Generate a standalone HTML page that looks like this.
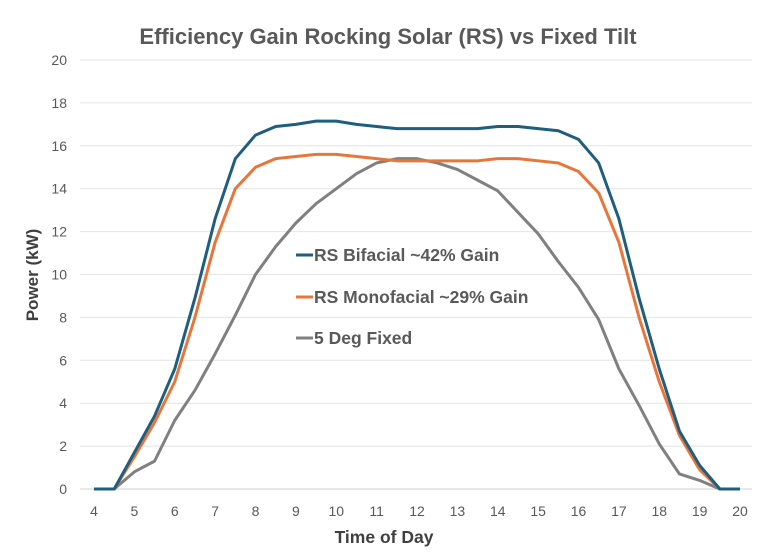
<!DOCTYPE html>
<html><head><meta charset="utf-8"><style>
body{margin:0;background:#fff;}
svg{display:block;font-family:"Liberation Sans",sans-serif;}
</style></head><body>
<svg id="chart" width="768" height="558" viewBox="0 0 768 558">
<rect x="0" y="0" width="768" height="558" fill="#fff"/>
<text x="388" y="44" text-anchor="middle" font-size="22" font-weight="bold" fill="#595959">Efficiency Gain Rocking Solar (RS) vs Fixed Tilt</text>
<g id="grid"></g><g id="yticks"></g><g id="xticks"></g><g id="series"></g>
<text x="384" y="543" text-anchor="middle" font-size="17.5" font-weight="bold" fill="#404040">Time of Day</text>
<text transform="translate(38,275) rotate(-90)" text-anchor="middle" font-size="17" font-weight="bold" fill="#404040">Power (kW)</text>
<g>
<line x1="296" y1="255" x2="313" y2="255" stroke="#1f5e7e" stroke-width="3"/>
<text x="314" y="261" font-size="17.5" font-weight="bold" fill="#595959">RS Bifacial ~42% Gain</text>
<line x1="296" y1="297" x2="313" y2="297" stroke="#e8763a" stroke-width="3"/>
<text x="314" y="303" font-size="17.5" font-weight="bold" fill="#595959">RS Monofacial ~29% Gain</text>
<line x1="296" y1="338" x2="313" y2="338" stroke="#808080" stroke-width="3"/>
<text x="314" y="344" font-size="17.5" font-weight="bold" fill="#595959">5 Deg Fixed</text>
</g>
</svg>
<script>
const times=[4,4.5,5,5.5,6,6.5,7,7.5,8,8.5,9,9.5,10,10.5,11,11.5,12,12.5,13,13.5,14,14.5,15,15.5,16,16.5,17,17.5,18,18.5,19,19.5,20];
const bifacial=[0,0,1.7,3.4,5.6,8.9,12.6,15.4,16.5,16.9,17.0,17.15,17.15,17.0,16.9,16.8,16.8,16.8,16.8,16.8,16.9,16.9,16.8,16.7,16.3,15.2,12.6,8.9,5.6,2.7,1.1,0,0];
const monofacial=[0,0,1.5,3.1,5.0,8.0,11.5,14.0,15.0,15.4,15.5,15.6,15.6,15.5,15.4,15.3,15.3,15.3,15.3,15.3,15.4,15.4,15.3,15.2,14.8,13.8,11.5,8.0,5.0,2.5,0.9,0,0];
const fixed=[0,0,0.8,1.3,3.2,4.6,6.3,8.1,10.0,11.3,12.4,13.3,14.0,14.7,15.2,15.4,15.4,15.2,14.9,14.4,13.9,12.9,11.9,10.6,9.4,7.9,5.6,3.9,2.1,0.7,0.4,0,0];
const yTicks=[0,2,4,6,8,10,12,14,16,18,20];
const xTicks=[4,5,6,7,8,9,10,11,12,13,14,15,16,17,18,19,20];
const NS="http://www.w3.org/2000/svg";
const xS=v=>94+(v-4)*(646/16);
const yS=v=>489-v*(429/20);
function mk(t,a,p){const e=document.createElementNS(NS,t);for(const k in a)e.setAttribute(k,a[k]);p.appendChild(e);return e;}
const grid=document.getElementById('grid'),yt=document.getElementById('yticks'),xt=document.getElementById('xticks'),ser=document.getElementById('series');
yTicks.forEach(v=>{
 const l=mk('line',{x1:80,x2:752,y1:yS(v),y2:yS(v),stroke:v===0?'#d0d0d0':'#e4e4e4','stroke-width':1},grid);
 
 
 const t=mk('text',{x:67,y:yS(v)+5,'text-anchor':'end','font-size':14,fill:'#595959'},yt);
 t.textContent=v;
 
 
});
xTicks.forEach(v=>{
 const t=mk('text',{x:xS(v),y:516,'text-anchor':'middle','font-size':14,fill:'#595959'},xt);
 t.textContent=v;
 
 
});
[[fixed,'#808080','line-fixed'],[monofacial,'#e8763a','line-monofacial'],[bifacial,'#1f5e7e','line-bifacial']].forEach(([d,c,n])=>{
 const p=mk('polyline',{points:d.map((v,i)=>xS(times[i])+','+yS(v)).join(' '),fill:'none',stroke:c,'stroke-width':3,'stroke-linejoin':'round'},ser);
 
 
});
</script>
</body></html>
